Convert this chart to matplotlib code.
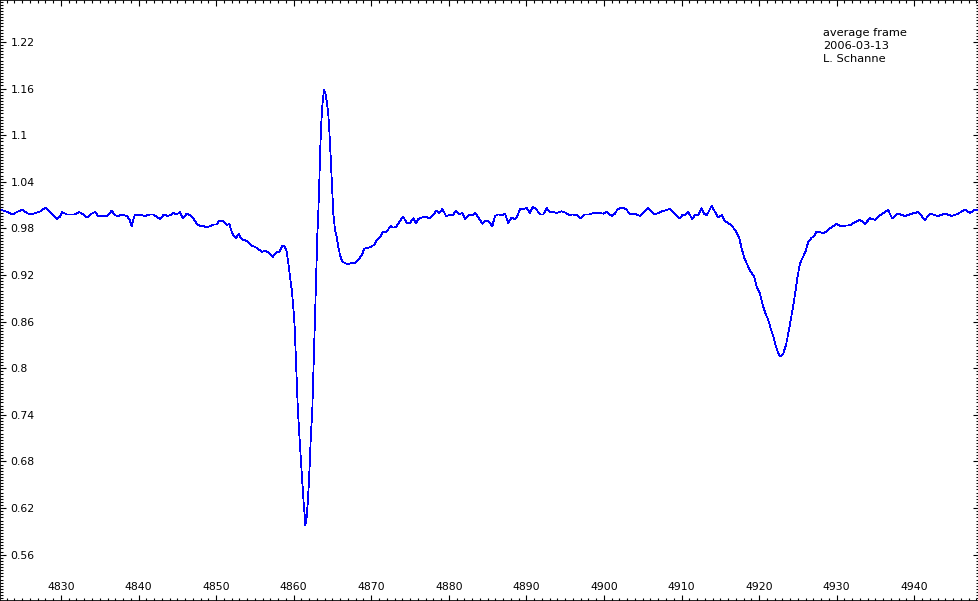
import numpy as np
import matplotlib
matplotlib.use("Agg")
import matplotlib.pyplot as plt
from matplotlib.ticker import FixedLocator, MultipleLocator

# spectrum (wavelength in Angstrom, normalised flux)
wavelength = [
    4822.14, 4822.57, 4823.08, 4823.78, 4824.29, 4824.98, 4825.79, 4826.43, 4827.08, 4827.39,
    4827.98, 4828.59, 4829.01, 4829.45, 4829.87, 4830.17, 4830.74, 4831.81, 4832.36, 4832.88,
    4833.39, 4833.96, 4834.39, 4834.81, 4835.90, 4836.23, 4836.54, 4836.97, 4837.39, 4837.83,
    4838.47, 4838.81, 4839.12, 4839.32, 4839.54, 4840.41, 4840.83, 4841.48, 4841.90, 4842.34,
    4842.77, 4843.28, 4843.71, 4844.15, 4844.48, 4844.92, 4845.34, 4845.69, 4846.21, 4846.63,
    4847.06, 4847.50, 4847.92, 4848.35, 4848.79, 4849.21, 4849.64, 4850.08, 4850.41, 4850.72,
    4851.02, 4851.37, 4851.70, 4852.05, 4852.56, 4852.91, 4853.30, 4853.94, 4854.59, 4855.23,
    4855.88, 4856.30, 4856.73, 4857.30, 4857.72, 4858.15, 4858.58, 4858.88, 4859.10, 4859.31,
    4859.53, 4859.75, 4859.95, 4860.13, 4860.26, 4860.39, 4860.52, 4860.69, 4860.91, 4861.11,
    4861.29, 4861.42, 4861.50, 4861.68, 4861.81, 4861.98, 4862.10, 4862.23, 4862.40, 4862.53,
    4862.66, 4862.79, 4862.92, 4863.05, 4863.17, 4863.30, 4863.39, 4863.52, 4863.65, 4863.78,
    4863.95, 4864.13, 4864.30, 4864.46, 4864.59, 4864.77, 4864.94, 4865.11, 4865.33, 4865.52,
    4865.78, 4865.97, 4866.19, 4866.49, 4866.91, 4867.35, 4867.91, 4868.33, 4868.77, 4869.10,
    4869.62, 4870.06, 4870.39, 4870.70, 4871.13, 4871.48, 4871.90, 4872.20, 4872.51, 4872.84,
    4873.19, 4873.49, 4873.80, 4874.13, 4874.57, 4874.99, 4875.42, 4875.77, 4876.07, 4876.50,
    4877.06, 4877.48, 4877.79, 4878.09, 4878.44, 4878.77, 4879.16, 4879.64, 4880.06, 4880.50,
    4880.93, 4881.35, 4881.70, 4882.12, 4882.64, 4883.08, 4883.41, 4883.93, 4884.37, 4884.67,
    4885.09, 4885.61, 4885.95, 4886.38, 4886.82, 4887.24, 4887.67, 4888.11, 4888.53, 4888.83,
    4889.18, 4889.60, 4890.04, 4890.47, 4890.81, 4891.24, 4891.76, 4892.18, 4892.62, 4893.04,
    4893.47, 4893.91, 4894.55, 4895.11, 4895.53, 4895.97, 4896.49, 4896.91, 4897.56, 4898.20,
    4898.63, 4899.27, 4899.92, 4900.35, 4901.00, 4901.42, 4901.72, 4902.07, 4902.49, 4902.93,
    4903.27, 4904.00, 4904.64, 4905.68, 4906.58, 4907.48, 4908.51, 4909.16, 4909.80, 4910.15,
    4910.45, 4910.87, 4911.39, 4911.74, 4912.16, 4912.60, 4912.90, 4913.25, 4913.89, 4914.32,
    4914.74, 4915.18, 4915.60, 4916.03, 4916.60, 4917.02, 4917.45, 4917.76, 4918.06, 4918.40,
    4918.83, 4919.35, 4919.69, 4920.12, 4920.47, 4920.80, 4921.19, 4921.50, 4921.83, 4922.18,
    4922.48, 4922.70, 4923.12, 4923.47, 4923.77, 4924.07, 4924.41, 4924.72, 4924.93, 4925.27,
    4925.70, 4926.05, 4926.34, 4926.78, 4927.08, 4927.43, 4927.85, 4928.28, 4928.72, 4929.14,
    4929.57, 4930.00, 4930.43, 4931.72, 4932.36, 4933.01, 4933.65, 4934.30, 4934.94, 4935.59,
    4936.23, 4936.62, 4937.14, 4937.91, 4938.81, 4939.71, 4940.49, 4941.39, 4942.03, 4943.06,
    4943.97, 4944.87, 4945.64, 4946.55, 4947.19, 4947.83, 4948.35,
]
flux = [
    1.004, 1.003, 1.001, 0.998, 1.001, 1.004, 0.999, 0.999, 1.001, 1.002,
    1.007, 1.001, 0.997, 0.992, 0.995, 1.001, 0.998, 0.998, 1.001, 0.998,
    0.994, 0.999, 1.001, 0.996, 0.996, 0.999, 1.003, 0.997, 0.996, 0.998,
    0.996, 0.992, 0.983, 0.991, 0.998, 0.997, 0.996, 0.998, 0.998, 0.995,
    0.992, 0.998, 0.996, 0.997, 1.000, 0.998, 1.001, 0.993, 0.999, 0.997,
    0.993, 0.986, 0.983, 0.983, 0.981, 0.983, 0.985, 0.985, 0.990, 0.990,
    0.989, 0.984, 0.986, 0.974, 0.967, 0.973, 0.966, 0.964, 0.958, 0.955,
    0.950, 0.951, 0.949, 0.943, 0.949, 0.950, 0.958, 0.956, 0.950, 0.935,
    0.918, 0.901, 0.879, 0.853, 0.819, 0.785, 0.751, 0.720, 0.686, 0.656,
    0.626, 0.611, 0.598, 0.609, 0.626, 0.656, 0.686, 0.716, 0.746, 0.789,
    0.832, 0.879, 0.928, 0.972, 0.999, 1.038, 1.072, 1.107, 1.132, 1.149,
    1.158, 1.152, 1.141, 1.128, 1.107, 1.072, 1.034, 0.999, 0.978, 0.970,
    0.955, 0.946, 0.939, 0.936, 0.934, 0.935, 0.935, 0.940, 0.945, 0.954,
    0.955, 0.957, 0.959, 0.965, 0.969, 0.975, 0.975, 0.979, 0.983, 0.981,
    0.982, 0.986, 0.991, 0.995, 0.987, 0.987, 0.993, 0.987, 0.992, 0.994,
    0.995, 0.993, 0.995, 0.999, 1.003, 1.000, 1.005, 0.996, 0.997, 0.997,
    1.003, 0.998, 1.000, 0.992, 0.997, 0.997, 1.000, 0.992, 0.986, 0.990,
    0.989, 0.983, 0.996, 0.998, 0.997, 0.999, 0.987, 0.994, 0.992, 0.996,
    1.005, 1.005, 1.006, 1.000, 1.008, 1.005, 0.998, 0.998, 1.006, 1.001,
    1.001, 1.000, 1.002, 1.000, 0.997, 0.998, 0.997, 0.993, 0.998, 0.998,
    1.000, 1.000, 0.999, 1.001, 0.996, 0.999, 1.004, 1.006, 1.007, 1.004,
    0.999, 0.999, 0.996, 1.006, 0.998, 1.002, 1.005, 0.998, 0.993, 0.998,
    0.997, 1.001, 0.992, 0.997, 0.997, 1.006, 0.999, 0.997, 1.009, 1.001,
    0.994, 0.997, 0.989, 0.987, 0.982, 0.976, 0.967, 0.954, 0.943, 0.935,
    0.926, 0.918, 0.905, 0.896, 0.881, 0.871, 0.862, 0.851, 0.841, 0.828,
    0.819, 0.815, 0.819, 0.830, 0.845, 0.862, 0.881, 0.901, 0.916, 0.935,
    0.944, 0.952, 0.963, 0.968, 0.970, 0.976, 0.975, 0.974, 0.976, 0.980,
    0.983, 0.986, 0.983, 0.984, 0.988, 0.991, 0.986, 0.993, 0.991, 0.997,
    1.001, 1.004, 0.993, 0.999, 0.996, 0.999, 1.001, 0.991, 0.999, 0.996,
    0.999, 0.996, 0.999, 1.004, 1.000, 1.004, 1.003,
]

x_range = (4822.14, 4948.35)
y_range = (0.5004, 1.274)
y_ticks = [0.56, 0.62, 0.68, 0.74, 0.80, 0.86, 0.92, 0.98, 1.04, 1.10, 1.16, 1.22]
y_labels = ["0.56", "0.62", "0.68", "0.74", "0.8", "0.86", "0.92", "0.98", "1.04", "1.1", "1.16", "1.22"]
x_ticks = [4830, 4840, 4850, 4860, 4870, 4880, 4890, 4900, 4910, 4920, 4930, 4940]
notes = ["average frame", "2006-03-13", "L. Schanne"]

plt.rcParams['font.family'] = ['DejaVu Sans']
fig = plt.figure(figsize=(9.79, 6.01), dpi=100)
ax = fig.add_axes([0, 0, 1, 1])

ax.plot(wavelength, flux, color="#0000ff", lw=0.55, antialiased=False)

ax.set_xlim(*x_range)
ax.set_ylim(*y_range)

ax.xaxis.set_major_locator(FixedLocator(x_ticks))
ax.xaxis.set_minor_locator(MultipleLocator(1))
ax.yaxis.set_major_locator(FixedLocator(y_ticks))
ax.yaxis.set_minor_locator(MultipleLocator(0.004))
ax.set_xticklabels([str(t) for t in x_ticks])
ax.set_yticklabels(y_labels)

ax.tick_params(which="both", direction="in", top=True, right=True, color="black", width=0.8)
ax.tick_params(which="major", length=4.5)
ax.tick_params(which="minor", length=2.2)
ax.tick_params(axis="y", labelsize=7.8, pad=-7.5)
ax.tick_params(axis="x", labelsize=7.8, pad=-6.5)
for lab in ax.get_yticklabels():
    lab.set_horizontalalignment("left")
for lab in ax.get_xticklabels():
    lab.set_verticalalignment("bottom")

for sp in ax.spines.values():
    sp.set_linewidth(1.2)
    sp.set_color("black")

for i, s in enumerate(notes):
    ax.text(0.8407, 1 - (36.5 + 12.6 * i) / 601, s, transform=ax.transAxes,
            fontsize=8.2, ha="left", va="baseline", color="black")

fig.savefig("out.png", dpi=100)
